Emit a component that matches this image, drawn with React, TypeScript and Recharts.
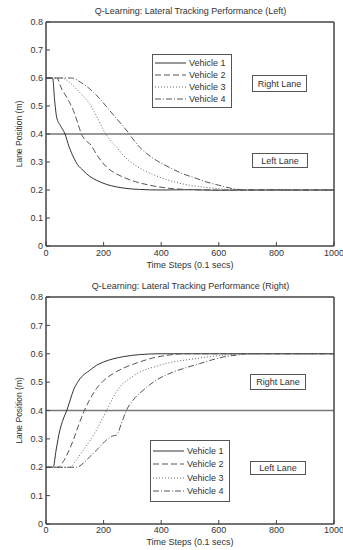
import React from 'react';
import {
  LineChart,
  Line,
  XAxis,
  YAxis,
  ReferenceLine,
  ReferenceArea,
} from 'recharts';

// time steps / lane positions
const T_TICKS = [0, 200, 400, 600, 800, 1000];
const Y_TICKS = [0, 0.1, 0.2, 0.3, 0.4, 0.5, 0.6, 0.7, 0.8];
const VEHICLES = ['Vehicle 1', 'Vehicle 2', 'Vehicle 3', 'Vehicle 4'];

// left lane change (0.6 -> 0.2)
const leftT1 = [0, 23, 30, 37, 50, 66, 80, 95, 110, 129, 150, 175, 210, 245, 285, 325, 400, 500, 600, 700, 800, 900, 1000];
const leftV1 = [0.6, 0.6, 0.52, 0.46, 0.43, 0.4, 0.355, 0.318, 0.29, 0.27, 0.25, 0.235, 0.22, 0.211, 0.205, 0.202, 0.2, 0.201, 0.199, 0.2, 0.2, 0.2, 0.2];
const leftT2 = [0, 37, 55, 72, 95, 110, 123, 140, 152, 180, 210, 240, 268, 310, 360, 440, 520, 600, 700, 800, 900, 1000];
const leftV2 = [0.6, 0.6, 0.56, 0.531, 0.484, 0.44, 0.4, 0.375, 0.365, 0.32, 0.282, 0.26, 0.246, 0.23, 0.217, 0.205, 0.201, 0.2, 0.2, 0.201, 0.2, 0.2];
const leftT3 = [0, 54, 75, 95, 120, 152, 180, 204, 225, 245, 270, 302, 350, 394, 450, 498, 550, 600, 650, 700, 800, 900, 1000];
const leftV3 = [0.6, 0.6, 0.59, 0.572, 0.545, 0.507, 0.455, 0.406, 0.375, 0.353, 0.322, 0.294, 0.265, 0.246, 0.228, 0.217, 0.21, 0.205, 0.201, 0.2, 0.2, 0.2, 0.2];
const leftT4 = [0, 89, 120, 152, 190, 221, 255, 285, 305, 325, 350, 383, 430, 475, 520, 556, 600, 648, 700, 800, 900, 1000];
const leftV4 = [0.6, 0.6, 0.585, 0.561, 0.522, 0.484, 0.443, 0.406, 0.378, 0.353, 0.33, 0.306, 0.28, 0.258, 0.242, 0.229, 0.217, 0.205, 0.2, 0.2, 0.2, 0.2];

// right lane change (0.2 -> 0.6)
const rightT1 = [0, 25, 35, 48, 60, 72, 85, 95, 110, 129, 150, 175, 200, 233, 270, 325, 400, 500, 600, 700, 800, 900, 1000];
const rightV1 = [0.2, 0.2, 0.26, 0.33, 0.37, 0.4, 0.44, 0.471, 0.5, 0.524, 0.54, 0.559, 0.571, 0.582, 0.59, 0.597, 0.6, 0.6, 0.6, 0.6, 0.6, 0.6, 0.6];
const rightT2 = [0, 42, 60, 80, 95, 112, 129, 150, 175, 200, 233, 270, 325, 370, 417, 480, 600, 700, 800, 900, 1000];
const rightV2 = [0.2, 0.2, 0.22, 0.26, 0.296, 0.345, 0.39, 0.435, 0.477, 0.505, 0.53, 0.55, 0.571, 0.585, 0.594, 0.6, 0.6, 0.6, 0.6, 0.6, 0.6];
const rightT3 = [0, 83, 105, 129, 150, 175, 195, 210, 230, 256, 290, 325, 380, 440, 500, 556, 620, 680, 800, 900, 1000];
const rightV3 = [0.2, 0.2, 0.225, 0.26, 0.29, 0.331, 0.37, 0.4, 0.44, 0.483, 0.512, 0.535, 0.555, 0.571, 0.58, 0.588, 0.595, 0.6, 0.6, 0.6, 0.6];
const rightT4 = [0, 106, 130, 152, 180, 210, 230, 245, 262, 279, 305, 337, 380, 440, 490, 533, 575, 613, 660, 700, 800, 900, 1000];
const rightV4 = [0.2, 0.2, 0.215, 0.237, 0.265, 0.296, 0.31, 0.313, 0.355, 0.4, 0.44, 0.471, 0.505, 0.535, 0.552, 0.565, 0.578, 0.588, 0.595, 0.6, 0.6, 0.6, 0.6];

const DASHES = ['', '6 3', '1 2', '6 2 1 2'];
const COLORS = ['#333', '#555', '#666', '#555'];
const FONT = '"Liberation Sans", Arial, sans-serif';
const TXT = '#333';

const pts = (t: number[], v: number[]) => t.map((x, i) => ({ t: x, v: v[i] }));

type Box = { left: number; top: number; width: number; height: number };

function LaneBox({ box, text }: { box: Box; text: string }) {
  return (
    <div
      style={{
        position: 'absolute',
        ...box,
        boxSizing: 'border-box',
        border: '1px solid #555',
        background: '#fff',
        fontSize: 9,
        color: TXT,
        display: 'flex',
        alignItems: 'center',
        justifyContent: 'center',
      }}
    >
      {text}
    </div>
  );
}

function LegendBox({ box }: { box: Box }) {
  return (
    <div
      style={{
        position: 'absolute',
        ...box,
        boxSizing: 'border-box',
        border: '1px solid #555',
        background: '#fff',
        display: 'flex',
        flexDirection: 'column',
        justifyContent: 'space-evenly',
        padding: '2px 0',
      }}
    >
      {VEHICLES.map((name, i) => (
        <div key={name} style={{ display: 'flex', alignItems: 'center', height: 12 }}>
          <svg width={33} height={6} style={{ marginLeft: 2 }}>
            <line x1={0} y1={3} x2={31} y2={3} stroke={COLORS[i]} strokeWidth={1} strokeDasharray={DASHES[i] || undefined} />
          </svg>
          <span style={{ fontSize: 9, color: TXT, marginLeft: 1, whiteSpace: 'nowrap' }}>{name}</span>
        </div>
      ))}
    </div>
  );
}

interface PanelProps {
  title: string;
  series: { t: number; v: number }[][];
  xAxisHeight: number;
  tickMargin: number;
  labelOffset: number;
  legend: Box;
  rightLane: Box;
  leftLane: Box;
}

function Panel({ title, series, xAxisHeight, tickMargin, labelOffset, legend, rightLane, leftLane }: PanelProps) {
  return (
    <div style={{ position: 'relative', width: 343, height: 275 }}>
      <div
        style={{
          position: 'absolute',
          left: 36,
          width: 309,
          top: 6,
          textAlign: 'center',
          fontSize: 9,
          color: TXT,
          whiteSpace: 'nowrap',
        }}
      >
        {title}
      </div>
      <LineChart width={343} height={275} margin={{ top: 21, right: 8, bottom: 0, left: 16 }}>
        <XAxis
          dataKey="t"
          type="number"
          domain={[0, 1000]}
          ticks={T_TICKS}
          height={xAxisHeight}
          tickSize={-4}
          tickMargin={tickMargin}
          stroke="#444"
          tick={{ fontSize: 9, fill: TXT }}
          label={{ value: 'Time Steps (0.1 secs)', position: 'insideBottom', offset: labelOffset, fontSize: 9, fill: TXT }}
        />
        <XAxis
          xAxisId="top"
          orientation="top"
          dataKey="t"
          type="number"
          domain={[0, 1000]}
          ticks={T_TICKS}
          height={1}
          tickSize={-4}
          tick={false}
          stroke="#444"
        />
        <YAxis
          type="number"
          domain={[0, 0.8]}
          ticks={Y_TICKS}
          width={30}
          tickSize={-4}
          tickMargin={7}
          stroke="#444"
          tick={{ fontSize: 9, fill: TXT }}
          tickFormatter={(v: number) => (v === 0 ? '0' : String(v))}
          label={{ value: 'Lane Position (m)', angle: -90, position: 'center', dx: -12, fontSize: 8.5, fill: TXT }}
        />
        <YAxis
          yAxisId="r"
          orientation="right"
          type="number"
          domain={[0, 0.8]}
          ticks={Y_TICKS}
          width={1}
          tickSize={-4}
          tick={false}
          stroke="#444"
        />
        <ReferenceArea x1={0} x2={1000} y1={0} y2={0.8} fill="none" stroke="#444" strokeWidth={1} ifOverflow="visible" />
        <ReferenceLine y={0.4} stroke="#777" strokeWidth={1.5} />
        {/* carries the mirrored top/right axes so their inward ticks are drawn */}
        <Line
          xAxisId="top"
          yAxisId="r"
          data={series[0]}
          dataKey="v"
          stroke="none"
          dot={false}
          legendType="none"
          isAnimationActive={false}
        />
        {series.map((d, i) => (
          <Line
            key={VEHICLES[i]}
            name={VEHICLES[i]}
            data={d}
            dataKey="v"
            type="monotone"
            stroke={COLORS[i]}
            strokeWidth={1}
            strokeDasharray={DASHES[i] || undefined}
            dot={false}
            isAnimationActive={false}
          />
        ))}
      </LineChart>
      <LegendBox box={legend} />
      <LaneBox box={rightLane} text="Right Lane" />
      <LaneBox box={leftLane} text="Left Lane" />
    </div>
  );
}

export default function App() {
  return (
    <div
      style={{
        position: 'absolute',
        left: 0,
        top: 0,
        width: 343,
        height: 550,
        background: '#fff',
        fontFamily: FONT,
      }}
    >
      <Panel
        title="Q-Learning: Lateral Tracking Performance (Left)"
        series={[pts(leftT1, leftV1), pts(leftT2, leftV2), pts(leftT3, leftV3), pts(leftT4, leftV4)]}
        xAxisHeight={29}
        tickMargin={8}
        labelOffset={7}
        legend={{ left: 152, top: 54, width: 80, height: 54 }}
        rightLane={{ left: 252, top: 75, width: 55, height: 17 }}
        leftLane={{ left: 252, top: 153, width: 56, height: 15 }}
      />
      <Panel
        title="Q-Learning: Lateral Tracking Performance (Right)"
        series={[pts(rightT1, rightV1), pts(rightT2, rightV2), pts(rightT3, rightV3), pts(rightT4, rightV4)]}
        xAxisHeight={26}
        tickMargin={7}
        labelOffset={5}
        legend={{ left: 150, top: 165, width: 80, height: 62 }}
        rightLane={{ left: 250, top: 99, width: 56, height: 16 }}
        leftLane={{ left: 250, top: 186, width: 56, height: 14 }}
      />
    </div>
  );
}
